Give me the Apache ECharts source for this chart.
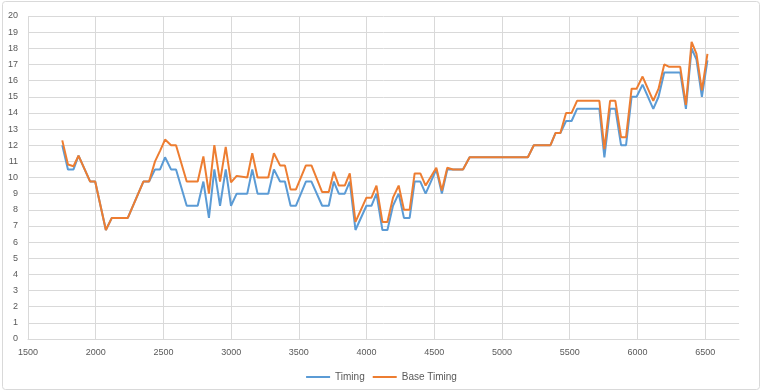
<!DOCTYPE html>
<html>
<head>
<meta charset="utf-8">
<script src="https://cdn.jsdelivr.net/npm/echarts@6/dist/echarts.min.js"></script>
<style>html,body{margin:0;padding:0;background:#fff;}#c{width:763px;height:392px;}</style>
</head>
<body>
<div id="c"></div>
<script>
var xValues = [1753,1795,1836,1873,1959,1996,2075,2119,2237,2352,2394,2438,2475,2512,2556,2593,2672,2753,2795,2836,2876,2918,2960,2999,3041,3119,3156,3195,3274,3316,3361,3397,3439,3478,3552,3593,3672,3721,3758,3795,3839,3876,3918,3999,4036,4073,4117,4154,4195,4237,4276,4318,4355,4397,4436,4515,4556,4596,4638,4712,4761,5191,5235,5358,5395,5431,5473,5514,5554,5719,5756,5798,5837,5879,5916,5957,5994,6038,6117,6156,6198,6235,6316,6358,6400,6436,6476,6517];
var timing = [12.0,10.5,10.5,11.35,9.75,9.75,6.75,7.5,7.5,9.75,9.75,10.5,10.5,11.25,10.5,10.5,8.25,8.25,9.75,7.5,10.5,8.25,10.5,8.25,9.0,9.0,10.5,9.0,9.0,10.5,9.75,9.75,8.25,8.25,9.75,9.75,8.25,8.25,9.75,9.0,9.0,9.75,6.75,8.25,8.25,9.0,6.75,6.75,8.25,9.0,7.5,7.5,9.75,9.75,9.0,10.5,9.0,10.5,10.5,10.5,11.25,11.25,12.0,12.0,12.75,12.75,13.5,13.5,14.25,14.25,11.25,14.25,14.25,12.0,12.0,15.0,15.0,15.75,14.25,15.0,16.5,16.5,16.5,14.25,18.0,17.3,15.0,17.25];
var baseTiming = [12.3,10.8,10.7,11.35,9.75,9.75,6.75,7.5,7.5,9.75,9.75,11.0,11.65,12.35,12.0,12.0,9.75,9.75,11.3,9.0,12.0,9.75,11.9,9.7,10.1,10.0,11.5,10.0,10.0,11.5,10.75,10.75,9.25,9.25,10.75,10.75,9.1,9.1,10.35,9.5,9.5,10.25,7.25,8.75,8.75,9.5,7.25,7.25,8.75,9.5,8.0,8.0,10.25,10.25,9.5,10.6,9.2,10.6,10.5,10.5,11.25,11.25,12.0,12.0,12.75,12.75,14.0,14.0,14.75,14.75,11.75,14.75,14.75,12.5,12.5,15.5,15.5,16.25,14.75,15.5,17.0,16.85,16.85,14.5,18.4,17.65,15.4,17.65];
var seriesNames = ['Timing', 'Base Timing'];

function pairs(ys){ return xValues.map(function(x,i){ return [x, ys[i]]; }); }

var chart = echarts.init(document.getElementById('c'), null, {renderer:'canvas'});
var font = '"Liberation Sans", Arial, sans-serif';
chart.setOption({
  animation: false,
  backgroundColor: '#ffffff',
  graphic: [{
    type: 'rect', silent: true, z: -10,
    shape: {x: 2.5, y: 1.5, width: 757, height: 388, r: 3},
    style: {fill: 'none', stroke: '#d9d9d9', lineWidth: 1}
  }],
  grid: {left: 28, right: 24, top: 16, bottom: 53},
  legend: {
    data: seriesNames,
    left: 'center', top: 367,
    icon: 'rect',
    itemWidth: 24, itemHeight: 2, itemGap: 8,
    textStyle: {color: '#595959', fontSize: 10, fontFamily: font}
  },
  xAxis: {
    type: 'value', min: 1500, max: 6750, interval: 500,
    axisLine: {show: true, lineStyle: {color: '#d9d9d9'}},
    axisTick: {show: false},
    axisLabel: {color: '#595959', fontSize: 9, fontFamily: font, margin: 9, showMaxLabel: false,
      formatter: function(v){ return v % 500 === 0 ? String(v) : ''; }},
    splitLine: {show: true, showMaxLine: false, lineStyle: {color: '#d9d9d9', width: 1}}
  },
  yAxis: {
    type: 'value', min: 0, max: 20, interval: 1,
    axisLine: {show: false},
    axisTick: {show: false},
    axisLabel: {color: '#595959', fontSize: 9, fontFamily: font, margin: 10},
    splitLine: {show: true, lineStyle: {color: '#d9d9d9', width: 1}}
  },
  series: [
    {name: seriesNames[0], type: 'line', data: pairs(timing), symbol: 'none',
     lineStyle: {color: '#5B9BD5', width: 2}, itemStyle: {color: '#5B9BD5'}},
    {name: seriesNames[1], type: 'line', data: pairs(baseTiming), symbol: 'none',
     lineStyle: {color: '#ED7D31', width: 2}, itemStyle: {color: '#ED7D31'}}
  ]
});
</script>
</body>
</html>
